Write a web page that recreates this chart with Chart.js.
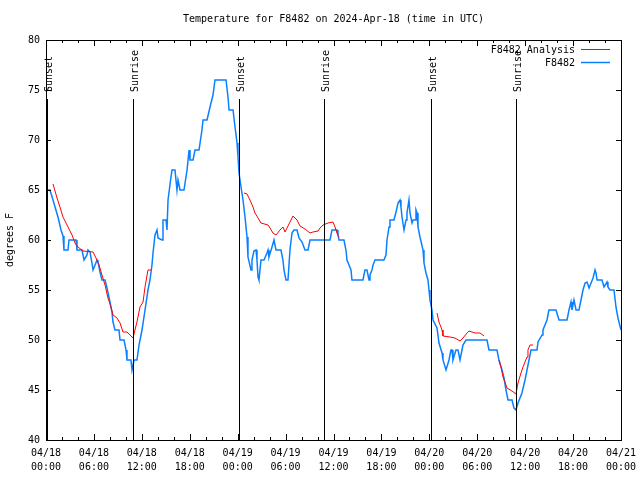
<!DOCTYPE html>
<html>
<head>
<meta charset="utf-8">
<script src="https://cdn.jsdelivr.net/npm/chart.js@4/dist/chart.umd.min.js"></script>
<style>
    html, body { margin:0; padding:0; background:#ffffff; }
    #wrap { width:640px; height:480px; }
</style>
</head>
<body>
<div id="wrap"><canvas id="tempChart" width="640" height="480"></canvas></div>
<script>

/*
=================================
DATA  (hours since 04/18 00:00 UTC)
=================================
*/

const stationHours = [
    0.13,0.5,0.88,1.13,1.5,1.88,2.13,2.25,2.75,2.88,3.76,3.88,4.51,4.76,5.13,5.26,5.51,5.76,5.89,6.14,
    6.39,6.51,6.76,7.01,7.39,7.64,8.01,8.26,8.39,8.64,9.14,9.27,9.77,10.02,10.14,10.64,10.77,10.89,11.02,11.39,
    11.65,12.02,12.4,12.77,13.02,13.27,13.4,13.65,13.9,14.03,14.53,14.65,15.03,15.15,15.28,15.65,15.78,16.15,16.4,16.53,
    16.78,17.28,17.66,17.91,18.03,18.41,18.66,19.16,19.53,19.66,20.16,20.54,20.91,21.16,22.54,22.79,22.92,23.42,23.67,23.92,
    24.04,24.17,24.42,24.67,24.92,25.17,25.29,25.67,25.79,26.04,26.3,26.42,26.55,26.67,26.92,27.3,27.67,27.8,27.92,28.3,
    28.55,28.8,29.42,29.67,29.8,30.05,30.3,30.55,30.8,31.05,31.43,31.68,32.06,32.43,32.81,33.06,35.56,35.81,36.44,36.56,
    36.69,37.31,37.56,37.69,37.94,38.19,38.31,39.69,39.94,40.19,40.45,40.57,40.82,40.95,41.2,42.32,42.57,42.7,42.95,43.07,
    43.57,43.83,44.08,44.33,44.45,44.58,44.83,45.08,45.2,45.45,45.58,45.83,45.96,46.21,46.33,46.46,46.58,46.83,47.21,47.33,
    47.58,47.83,47.96,48.08,48.33,48.46,48.96,49.21,49.59,49.71,50.09,50.21,50.46,50.71,50.84,50.96,51.34,51.59,51.84,52.09,
    52.21,52.59,55.22,55.47,56.47,56.72,57.1,57.35,57.6,57.85,58.35,58.6,58.85,59.1,59.6,59.98,60.23,60.48,60.73,61.48,
    61.61,62.11,62.23,62.48,62.73,62.98,63.86,64.24,65.24,65.49,65.74,65.86,66.11,66.37,66.74,66.99,67.24,67.5,67.75,68.0,
    68.25,68.5,68.75,68.87,69.0,69.62,69.87,70.25,70.37,70.62,71.12,71.37,71.62,72.0
];

const stationTemps = [
    65,65,64,63.3,62.3,61,60.4,59,59,60,60,59,59,58,58.5,59,58.8,57.7,57,57.5,
    58,57.8,56.8,56,56,55.2,53.8,52.8,51.8,51,51,50,50,49,48,48,47,47,48,48,
    49.5,51,53,55,56,57.5,58.7,60.5,61,60.2,60,62,62,61,64,66.3,67,67,65,66,
    65,65,67,69,68,68,69,69,71,72,72,73.3,74.5,76,76,74.3,73,73,71.3,69.7,
    68.3,66.7,65.3,64,62.3,60.3,58.3,57,58,58.9,59,58,56.3,56,58,58,58.7,59,58.3,59.3,
    60,59,59,58,57,56,56,59,60.7,61,61,60.2,59.8,59,59,60,60,61,61,60.5,
    60,60,59,58,57.5,57,56,56,57,57,56,56.5,57,57.5,58,58,58.5,60,61.3,62,
    62,62.8,63.7,64,63.3,62.3,61,62,62.7,64,62.7,61.7,62,62,63,62.7,61.3,60.3,59,57.7,
    56.7,56,55,54,53,52,51.2,49.7,48.7,48,47,47,48,49,49,48,49,49,48,49,
    49.5,50,50,49,49,48,47,46.2,45,44,44,43.2,43,43.7,44.7,46,47,48,49,49,
    49.8,50.5,51,51.5,52,53,53,52,52,53,53.8,53,54,53,53,54,55,55.7,55.8,55.2,
    55.7,56.2,57,56.7,56,56,55.3,55.8,55.3,55,55,53.3,52.2,51
];

// analysis series, null = gap
const analysisHours = [
    0.88,1.38,1.75,2.13,2.63,3.26,3.63,4.01,4.63,5.89,6.26,6.64,7.01,7.39,7.76,8.14,8.39,8.89,9.27,9.64,
    10.14,10.52,10.89,11.39,11.77,12.15,12.4,12.77,13.15,13.5,
    24.79,25.17,25.54,25.92,26.17,26.55,26.92,27.8,28.05,28.42,28.8,29.3,29.68,29.93,30.18,30.55,30.93,31.43,31.81,32.43,
    33.06,33.43,34.06,34.31,34.69,35.31,35.94,36.19,36.44,36.69,37.0,
    48.96,49.21,49.59,49.71,50.59,51.21,51.84,52.21,52.72,52.97,53.72,54.35,54.85,55.2,
    56.72,56.97,57.23,57.47,57.72,58.35,58.85,59.1,59.48,59.73,59.98,60.23,60.35,60.61,60.98
];

const analysisTemps = [
    65.6,64.2,63.3,62.3,61.5,60.5,59.7,59.3,58.9,58.8,58.2,57.5,56.5,55.5,54.2,53.3,52.5,52.2,51.7,50.8,
    50.8,50.5,50.2,51.8,53.3,53.8,55.3,57,57,null,
    64.7,64.6,64,63.3,62.7,62.2,61.7,61.5,61.2,60.7,60.5,61,61.3,60.8,61.2,61.8,62.4,62,61.4,61.1,
    60.7,60.8,60.9,61.2,61.5,61.7,61.8,61.3,60.7,60.3,null,
    52.7,51.8,51,50.4,50.3,50.2,49.9,50.2,50.7,50.9,50.7,50.7,50.4,null,
    48,47.3,46.3,45.8,45.2,44.9,44.6,45.7,46.7,47.3,47.8,48.3,49,49.5,49.5
];

const sunEventHours = [0.13, 10.89, 24.17, 34.81, 48.21, 58.85];
const sunEventLabels = ["Sunset","Sunrise","Sunset","Sunrise","Sunset","Sunrise"];

const xTickDates = ["04/18","04/18","04/18","04/18","04/19","04/19","04/19","04/19","04/20","04/20","04/20","04/20","04/21"];
const xTickTimes = ["00:00","06:00","12:00","18:00","00:00","06:00","12:00","18:00","00:00","06:00","12:00","18:00","00:00"];

/*
=================================
HELPERS
=================================
*/

const monoFont = "DejaVu Sans Mono";

function toPoints(xs, ys){

    return xs.map((x, i) => ({ x: x, y: ys[i] }));
}

/*
=================================
FRAME, TICKS, SUN LINES, LEGEND
=================================
*/

const gnuplotLook = {

    id: "gnuplotLook",

    afterDatasetsDraw(chart){

        const ctx = chart.ctx;
        const area = chart.chartArea;
        const xs = chart.scales.x;
        const ys = chart.scales.y;

        ctx.save();
        ctx.strokeStyle = "#000000";
        ctx.lineWidth = 1;

        // sunrise / sunset markers
        ctx.font = "10px '" + monoFont + "'";
        ctx.fillStyle = "#000000";

        sunEventHours.forEach((h, i) => {

            const px = Math.round(xs.getPixelForValue(h)) + 0.5;

            ctx.beginPath();
            ctx.moveTo(px, ys.getPixelForValue(74.1));
            ctx.lineTo(px, area.bottom);
            ctx.stroke();

            ctx.save();
            ctx.translate(px + 1.5, 92);
            ctx.rotate(-Math.PI / 2);
            ctx.textAlign = "left";
            ctx.textBaseline = "middle";
            ctx.fillText(sunEventLabels[i], 0, 0);
            ctx.restore();
        });

        // border
        ctx.strokeRect(
            Math.round(area.left) + 0.5,
            Math.round(area.top) + 0.5,
            Math.round(area.right - area.left),
            Math.round(area.bottom - area.top)
        );

        // inward ticks on x (top + bottom)
        for(let h = xs.min; h <= xs.max; h += 2){

            const px = Math.round(xs.getPixelForValue(h)) + 0.5;
            const len = (h % 6 === 0) ? 6 : 3;

            ctx.beginPath();
            ctx.moveTo(px, area.bottom);
            ctx.lineTo(px, area.bottom - len);
            ctx.moveTo(px, area.top);
            ctx.lineTo(px, area.top + len);
            ctx.stroke();
        }

        // inward ticks on y (left + right)
        ys.ticks.forEach(t => {

            const py = Math.round(ys.getPixelForValue(t.value)) + 0.5;

            ctx.beginPath();
            ctx.moveTo(area.left, py);
            ctx.lineTo(area.left + 5, py);
            ctx.moveTo(area.right, py);
            ctx.lineTo(area.right - 5, py);
            ctx.stroke();
        });

        // legend, gnuplot style: text right, sample line after it
        ctx.textAlign = "right";
        ctx.textBaseline = "middle";

        chart.data.datasets.forEach((ds, i) => {

            const rowY = 50 + i * 13;

            ctx.fillStyle = "#000000";
            ctx.fillText(ds.label, 575, rowY);

            ctx.strokeStyle = ds.borderColor;
            ctx.lineWidth = ds.borderWidth;
            ctx.beginPath();
            ctx.moveTo(581, Math.round(rowY) - 0.5);
            ctx.lineTo(610, Math.round(rowY) - 0.5);
            ctx.stroke();
        });

        ctx.restore();
    }
};

/*
=================================
CHART
=================================
*/

new Chart(document.getElementById("tempChart"), {

    type: "line",

    data: {

        datasets: [
            {
                label: "F8482 Analysis",
                data: toPoints(analysisHours, analysisTemps),
                borderColor: "#ff0000",
                borderWidth: 1,
                pointRadius: 0,
                tension: 0,
                spanGaps: false
            },
            {
                label: "F8482",
                data: toPoints(stationHours, stationTemps),
                borderColor: "#0a80ff",
                borderWidth: 1.5,
                pointRadius: 0,
                tension: 0
            }
        ]
    },

    options: {

        responsive: false,
        animation: false,
        events: [],

        layout: {
            padding: { left: 0, right: 19, top: 0, bottom: 0 }
        },

        plugins: {

            legend: { display: false },
            tooltip: { enabled: false },

            title: {
                display: true,
                text: "Temperature for F8482 on 2024-Apr-18 (time in UTC)",
                fullSize: false,
                color: "#000000",
                font: { family: monoFont, size: 10, weight: "normal" },
                padding: { top: 13, bottom: 15 }
            }
        },

        scales: {

            x: {
                type: "linear",
                min: 0,
                max: 72,
                grid: { display: false, drawTicks: false },
                border: { display: false },
                afterFit: s => {
                    s.height = 40;
                    s.paddingLeft = 0;
                    s.paddingRight = 0;
                },
                ticks: {
                    stepSize: 6,
                    autoSkip: false,
                    maxRotation: 0,
                    padding: 6,
                    color: "#000000",
                    font: { family: monoFont, size: 10, lineHeight: 1.4 },
                    callback: v => [xTickDates[v / 6], xTickTimes[v / 6]]
                }
            },

            y: {
                min: 40,
                max: 80,
                grid: { display: false, drawTicks: false },
                border: { display: false },
                afterFit: s => {
                    s.width = 46;
                    s.paddingTop = 0;
                    s.paddingBottom = 0;
                },
                title: {
                    display: true,
                    text: "degrees F",
                    color: "#000000",
                    font: { family: monoFont, size: 10 },
                    padding: { top: 4, bottom: 0 }
                },
                ticks: {
                    stepSize: 5,
                    padding: 6,
                    color: "#000000",
                    font: { family: monoFont, size: 10 }
                }
            }
        }
    },

    plugins: [gnuplotLook]
});
</script>
</body>
</html>
